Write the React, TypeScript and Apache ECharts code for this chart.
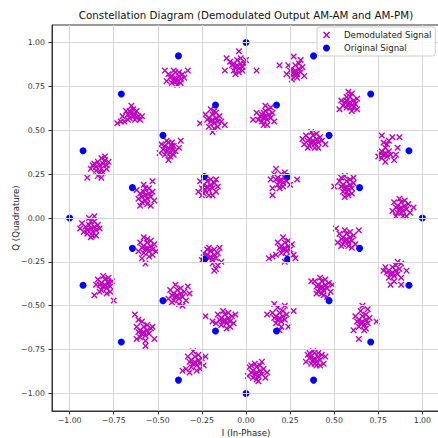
import React, { useEffect, useRef } from 'react';
import * as echarts from 'echarts';

const TITLE = 'Constellation Diagram (Demodulated Output AM-AM and AM-PM)';
const X_LABEL = 'I (In-Phase)';
const Y_LABEL = 'Q (Quadrature)';
const SERIES_DEMOD = 'Demodulated Signal';
const SERIES_ORIG = 'Original Signal';
const TICKS = [-1, -0.75, -0.5, -0.25, 0, 0.25, 0.5, 0.75, 1];

// Original 32-APSK constellation points (4 + 12 + 16)
const originalInner = [[0.236, 0.236], [-0.236, 0.236], [-0.236, -0.236], [0.236, -0.236]];
const originalMiddle = [
  [0.644, 0.173], [0.471, 0.471], [0.173, 0.644], [-0.173, 0.644], [-0.471, 0.471], [-0.644, 0.173],
  [-0.644, -0.173], [-0.471, -0.471], [-0.173, -0.644], [0.173, -0.644], [0.471, -0.471], [0.644, -0.173],
];
const originalOuter = [
  [1, 0], [0.924, 0.383], [0.707, 0.707], [0.383, 0.924], [0, 1], [-0.383, 0.924], [-0.707, 0.707], [-0.924, 0.383],
  [-1, 0], [-0.924, -0.383], [-0.707, -0.707], [-0.383, -0.924], [0, -1], [0.383, -0.924], [0.707, -0.707], [0.924, -0.383],
];

// Demodulated clusters
const cA = [[-0.40,0.80],[-0.38,0.81],[-0.42,0.81],[-0.39,0.78],[-0.41,0.79],[-0.37,0.79],[-0.43,0.80],[-0.40,0.83],[-0.38,0.83],[-0.42,0.77],[-0.36,0.82],[-0.44,0.82],[-0.39,0.76],[-0.41,0.84],[-0.37,0.77],[-0.45,0.78],[-0.35,0.80],[-0.40,0.78],[-0.46,0.84],[-0.33,0.84]];
const cB = [[-0.65,0.60],[-0.63,0.59],[-0.67,0.59],[-0.64,0.62],[-0.66,0.57],[-0.62,0.61],[-0.68,0.61],[-0.65,0.64],[-0.63,0.56],[-0.67,0.56],[-0.61,0.58],[-0.60,0.56],[-0.59,0.58],[-0.70,0.58],[-0.71,0.55],[-0.73,0.54],[-0.64,0.58],[-0.66,0.61],[-0.62,0.57],[-0.69,0.55]];
const cC = [[-0.83,0.30],[-0.81,0.31],[-0.85,0.29],[-0.82,0.28],[-0.84,0.32],[-0.80,0.33],[-0.86,0.31],[-0.79,0.30],[-0.83,0.26],[-0.81,0.26],[-0.85,0.27],[-0.87,0.30],[-0.80,0.35],[-0.78,0.32],[-0.82,0.34],[-0.84,0.24],[-0.90,0.23],[-0.82,0.23],[-0.88,0.28],[-0.79,0.28]];
const cD = [[-0.44,0.40],[-0.42,0.39],[-0.46,0.41],[-0.43,0.37],[-0.45,0.38],[-0.41,0.41],[-0.47,0.39],[-0.44,0.43],[-0.42,0.43],[-0.46,0.36],[-0.40,0.38],[-0.48,0.42],[-0.43,0.35],[-0.45,0.44],[-0.41,0.36],[-0.49,0.37],[-0.38,0.40],[-0.44,0.33],[-0.37,0.44],[-0.42,0.41]];
const cE = [[-0.57,0.13],[-0.55,0.14],[-0.59,0.12],[-0.56,0.11],[-0.58,0.15],[-0.54,0.12],[-0.60,0.14],[-0.57,0.17],[-0.55,0.17],[-0.59,0.09],[-0.53,0.15],[-0.61,0.11],[-0.56,0.08],[-0.58,0.19],[-0.52,0.10],[-0.62,0.16],[-0.54,0.07],[-0.60,0.07],[-0.53,0.21],[-0.57,0.10]];
const cF = [[-0.88,-0.06],[-0.86,-0.05],[-0.90,-0.07],[-0.87,-0.08],[-0.89,-0.04],[-0.85,-0.07],[-0.91,-0.05],[-0.88,-0.02],[-0.86,-0.02],[-0.90,-0.09],[-0.84,-0.04],[-0.92,-0.08],[-0.87,-0.10],[-0.89,0.00],[-0.85,-0.10],[-0.93,-0.03],[-0.83,-0.06],[-0.86,0.01],[-0.94,-0.06],[-0.88,-0.11]];
const cG = [[-0.05,0.87],[-0.03,0.88],[-0.07,0.88],[-0.04,0.85],[-0.06,0.86],[-0.02,0.86],[-0.08,0.87],[-0.05,0.90],[-0.03,0.91],[-0.07,0.84],[-0.01,0.88],[-0.09,0.89],[-0.04,0.83],[-0.04,0.95],[0.06,0.84],[-0.12,0.84],[-0.11,0.91],[0.00,0.90],[-0.06,0.82],[-0.02,0.84]];
const cH = [[0.28,0.84],[0.30,0.85],[0.26,0.85],[0.29,0.82],[0.27,0.83],[0.31,0.83],[0.25,0.84],[0.28,0.87],[0.30,0.88],[0.26,0.81],[0.32,0.86],[0.24,0.87],[0.29,0.80],[0.27,0.92],[0.19,0.87],[0.33,0.81],[0.23,0.82],[0.31,0.90],[0.26,0.79],[0.28,0.82]];
const cI = [[-0.19,0.56],[-0.17,0.57],[-0.21,0.57],[-0.18,0.54],[-0.20,0.55],[-0.16,0.55],[-0.22,0.56],[-0.19,0.59],[-0.17,0.60],[-0.21,0.52],[-0.15,0.58],[-0.23,0.59],[-0.18,0.51],[-0.20,0.62],[-0.16,0.52],[-0.26,0.54],[-0.12,0.53],[-0.19,0.49],[-0.14,0.55],[-0.18,0.61]];
const cJ = [[0.11,0.58],[0.13,0.59],[0.09,0.59],[0.12,0.56],[0.10,0.57],[0.14,0.57],[0.08,0.58],[0.11,0.61],[0.13,0.62],[0.09,0.55],[0.15,0.60],[0.07,0.56],[0.12,0.53],[0.11,0.64],[0.04,0.56],[0.16,0.55],[0.10,0.53],[0.06,0.60],[0.14,0.63],[0.10,0.60]];
const cK = [[-0.22,0.18],[-0.20,0.19],[-0.24,0.19],[-0.21,0.16],[-0.23,0.16],[-0.19,0.17],[-0.25,0.17],[-0.22,0.21],[-0.20,0.22],[-0.24,0.14],[-0.18,0.20],[-0.26,0.21],[-0.21,0.13],[-0.23,0.23],[-0.17,0.15],[-0.27,0.15],[-0.16,0.18],[-0.19,0.13],[-0.25,0.13],[-0.17,0.22]];
const cL = [[0.20,0.22],[0.22,0.23],[0.18,0.23],[0.21,0.20],[0.19,0.21],[0.23,0.21],[0.17,0.22],[0.20,0.25],[0.22,0.26],[0.18,0.19],[0.24,0.24],[0.16,0.25],[0.21,0.18],[0.17,0.28],[0.29,0.22],[0.14,0.22],[0.15,0.13],[0.15,0.17],[0.25,0.19],[0.19,0.17]];
const cM = [[0.59,0.66],[0.61,0.67],[0.57,0.67],[0.60,0.64],[0.58,0.65],[0.62,0.65],[0.56,0.66],[0.59,0.69],[0.60,0.71],[0.57,0.63],[0.63,0.68],[0.55,0.64],[0.60,0.61],[0.58,0.72],[0.53,0.62],[0.63,0.62],[0.57,0.69],[0.61,0.63],[0.54,0.67],[0.59,0.63]];
const cN = [[0.38,0.44],[0.40,0.45],[0.36,0.45],[0.39,0.42],[0.37,0.43],[0.41,0.43],[0.35,0.44],[0.38,0.47],[0.40,0.48],[0.36,0.41],[0.42,0.46],[0.34,0.47],[0.39,0.40],[0.37,0.49],[0.45,0.42],[0.33,0.42],[0.43,0.44],[0.35,0.40],[0.32,0.45],[0.41,0.40]];
const cO = [[0.79,0.37],[0.81,0.38],[0.77,0.38],[0.80,0.35],[0.78,0.36],[0.82,0.36],[0.76,0.37],[0.79,0.40],[0.80,0.42],[0.77,0.34],[0.79,0.32],[0.84,0.33],[0.77,0.47],[0.83,0.46],[0.87,0.46],[0.86,0.40],[0.78,0.43],[0.85,0.36],[0.81,0.44],[0.75,0.35]];
const cP = [[0.57,0.18],[0.59,0.19],[0.55,0.19],[0.58,0.16],[0.56,0.17],[0.60,0.17],[0.54,0.18],[0.57,0.21],[0.59,0.22],[0.55,0.15],[0.61,0.20],[0.53,0.21],[0.58,0.13],[0.56,0.24],[0.50,0.18],[0.60,0.14],[0.56,0.12],[0.54,0.23],[0.61,0.23],[0.57,0.15]];
const cQ = [[0.88,0.06],[0.90,0.07],[0.86,0.07],[0.89,0.04],[0.87,0.05],[0.91,0.05],[0.85,0.06],[0.88,0.09],[0.90,0.10],[0.86,0.03],[0.92,0.08],[0.84,0.09],[0.89,0.01],[0.87,0.11],[0.93,0.03],[0.83,0.04],[0.85,0.01],[0.91,0.01],[0.95,0.06],[0.88,0.03]];
const cR = [[-0.56,-0.17],[-0.54,-0.16],[-0.58,-0.16],[-0.55,-0.19],[-0.57,-0.18],[-0.53,-0.18],[-0.59,-0.17],[-0.56,-0.14],[-0.54,-0.13],[-0.58,-0.20],[-0.52,-0.15],[-0.60,-0.14],[-0.55,-0.22],[-0.58,-0.11],[-0.51,-0.19],[-0.61,-0.19],[-0.57,-0.26],[-0.53,-0.21],[-0.59,-0.23],[-0.56,-0.12]];
const cS = [[-0.80,-0.38],[-0.78,-0.37],[-0.82,-0.37],[-0.79,-0.40],[-0.81,-0.39],[-0.77,-0.39],[-0.83,-0.38],[-0.80,-0.35],[-0.78,-0.34],[-0.82,-0.41],[-0.76,-0.36],[-0.84,-0.35],[-0.79,-0.43],[-0.81,-0.33],[-0.86,-0.44],[-0.75,-0.47],[-0.77,-0.42],[-0.83,-0.42],[-0.85,-0.38],[-0.78,-0.36]];
const cT = [[-0.39,-0.44],[-0.37,-0.43],[-0.41,-0.43],[-0.38,-0.46],[-0.40,-0.45],[-0.36,-0.45],[-0.42,-0.44],[-0.39,-0.41],[-0.37,-0.40],[-0.41,-0.47],[-0.35,-0.42],[-0.43,-0.41],[-0.38,-0.49],[-0.40,-0.38],[-0.34,-0.47],[-0.44,-0.46],[-0.32,-0.43],[-0.36,-0.50],[-0.42,-0.48],[-0.33,-0.39]];
const cU = [[-0.58,-0.65],[-0.56,-0.64],[-0.60,-0.64],[-0.57,-0.67],[-0.59,-0.66],[-0.55,-0.66],[-0.61,-0.65],[-0.58,-0.62],[-0.56,-0.61],[-0.60,-0.68],[-0.54,-0.63],[-0.62,-0.62],[-0.57,-0.70],[-0.59,-0.59],[-0.63,-0.55],[-0.52,-0.69],[-0.57,-0.73],[-0.53,-0.62],[-0.62,-0.69],[-0.61,-0.58]];
const cV = [[-0.20,-0.22],[-0.18,-0.21],[-0.22,-0.21],[-0.19,-0.24],[-0.21,-0.23],[-0.17,-0.23],[-0.23,-0.22],[-0.20,-0.19],[-0.18,-0.18],[-0.22,-0.18],[-0.16,-0.20],[-0.24,-0.20],[-0.15,-0.17],[-0.19,-0.26],[-0.17,-0.29],[-0.16,-0.27],[-0.14,-0.25],[-0.25,-0.24],[-0.21,-0.17],[-0.18,-0.30]];
const cW = [[0.22,-0.17],[0.24,-0.16],[0.20,-0.16],[0.23,-0.19],[0.21,-0.18],[0.25,-0.18],[0.19,-0.17],[0.22,-0.14],[0.24,-0.13],[0.20,-0.20],[0.26,-0.15],[0.18,-0.14],[0.23,-0.22],[0.21,-0.11],[0.27,-0.21],[0.17,-0.21],[0.13,-0.23],[0.15,-0.22],[0.28,-0.23],[0.22,-0.25]];
const cX = [[-0.12,-0.58],[-0.10,-0.57],[-0.14,-0.57],[-0.11,-0.60],[-0.13,-0.59],[-0.09,-0.59],[-0.15,-0.58],[-0.12,-0.55],[-0.10,-0.54],[-0.14,-0.61],[-0.08,-0.56],[-0.16,-0.55],[-0.11,-0.63],[-0.13,-0.53],[-0.07,-0.60],[-0.17,-0.60],[-0.06,-0.55],[-0.23,-0.56],[-0.19,-0.59],[-0.09,-0.62]];
const cY = [[0.19,-0.57],[0.21,-0.56],[0.17,-0.56],[0.20,-0.59],[0.18,-0.58],[0.22,-0.58],[0.16,-0.57],[0.19,-0.54],[0.21,-0.53],[0.17,-0.60],[0.23,-0.55],[0.15,-0.54],[0.20,-0.62],[0.18,-0.51],[0.22,-0.50],[0.12,-0.55],[0.27,-0.53],[0.24,-0.62],[0.16,-0.49],[0.19,-0.64]];
const cZ = [[-0.29,-0.82],[-0.27,-0.81],[-0.31,-0.81],[-0.28,-0.84],[-0.30,-0.83],[-0.26,-0.83],[-0.32,-0.82],[-0.29,-0.79],[-0.27,-0.78],[-0.31,-0.85],[-0.25,-0.80],[-0.33,-0.79],[-0.28,-0.87],[-0.30,-0.76],[-0.23,-0.79],[-0.36,-0.87],[-0.34,-0.86],[-0.26,-0.86],[-0.32,-0.88],[-0.24,-0.84]];
const cAA = [[0.06,-0.88],[0.08,-0.87],[0.04,-0.87],[0.07,-0.90],[0.05,-0.89],[0.09,-0.89],[0.03,-0.88],[0.06,-0.85],[0.08,-0.84],[0.04,-0.91],[0.10,-0.86],[0.02,-0.85],[0.07,-0.93],[0.05,-0.83],[0.11,-0.91],[0.01,-0.90],[0.09,-0.82],[0.03,-0.84],[0.12,-0.88],[0.06,-0.92]];
const cAB = [[0.57,-0.12],[0.59,-0.11],[0.55,-0.11],[0.58,-0.14],[0.56,-0.13],[0.60,-0.13],[0.54,-0.12],[0.57,-0.09],[0.59,-0.08],[0.55,-0.15],[0.61,-0.10],[0.53,-0.09],[0.58,-0.16],[0.56,-0.07],[0.62,-0.15],[0.52,-0.14],[0.51,-0.06],[0.64,-0.07],[0.60,-0.17],[0.54,-0.16]];
const cAC = [[0.83,-0.31],[0.85,-0.30],[0.81,-0.30],[0.84,-0.33],[0.82,-0.32],[0.86,-0.32],[0.80,-0.31],[0.83,-0.28],[0.85,-0.27],[0.81,-0.34],[0.87,-0.29],[0.79,-0.28],[0.84,-0.36],[0.86,-0.25],[0.88,-0.26],[0.91,-0.30],[0.88,-0.34],[0.82,-0.38],[0.88,-0.38],[0.78,-0.30]];
const cAD = [[0.43,-0.39],[0.45,-0.38],[0.41,-0.38],[0.44,-0.41],[0.42,-0.40],[0.46,-0.40],[0.40,-0.39],[0.43,-0.36],[0.45,-0.35],[0.41,-0.42],[0.47,-0.37],[0.39,-0.36],[0.44,-0.44],[0.42,-0.34],[0.48,-0.42],[0.37,-0.36],[0.46,-0.45],[0.40,-0.43],[0.49,-0.38],[0.43,-0.43]];
const cAE = [[0.66,-0.59],[0.68,-0.58],[0.64,-0.58],[0.67,-0.61],[0.65,-0.60],[0.69,-0.60],[0.63,-0.59],[0.66,-0.56],[0.68,-0.55],[0.64,-0.62],[0.70,-0.57],[0.62,-0.56],[0.67,-0.64],[0.65,-0.53],[0.74,-0.59],[0.61,-0.64],[0.64,-0.69],[0.66,-0.50],[0.69,-0.52],[0.68,-0.63]];
const cAF = [[0.39,-0.80],[0.41,-0.79],[0.37,-0.79],[0.40,-0.82],[0.38,-0.81],[0.42,-0.81],[0.36,-0.80],[0.39,-0.77],[0.41,-0.77],[0.37,-0.83],[0.43,-0.78],[0.35,-0.78],[0.40,-0.84],[0.38,-0.76],[0.45,-0.79],[0.34,-0.82],[0.44,-0.83],[0.36,-0.77],[0.42,-0.84],[0.39,-0.83]];

const demodulated = [
  cA, cB, cC, cD, cE, cF, cG, cH, cI, cJ, cK, cL, cM, cN, cO, cP,
  cQ, cR, cS, cT, cU, cV, cW, cX, cY, cZ, cAA, cAB, cAC, cAD, cAE, cAF,
].flat();
const original = [...originalOuter, ...originalMiddle, ...originalInner];

const FONT = '"DejaVu Sans", "Liberation Sans", sans-serif';
const X_SYMBOL = 'path://M0,1.5L1.5,0L5,3.5L8.5,0L10,1.5L6.5,5L10,8.5L8.5,10L5,6.5L1.5,10L0,8.5L3.5,5Z';

const fmt = (v: number) => (v < 0 ? '\u2212' : '') + Math.abs(v).toFixed(2);

export default function App() {
  const ref = useRef<HTMLDivElement>(null);
  useEffect(() => {
    if (!ref.current) return;
    const chart = echarts.init(ref.current, null, { renderer: 'svg' });
    const axisCommon = {
      type: 'value',
      min: -1.1,
      max: 1.1,
      z: 3,
      axisLine: { show: true, onZero: false, lineStyle: { color: '#333', width: 1 } },
      axisTick: { show: true, length: 3.5, customValues: TICKS, lineStyle: { color: '#333', width: 1 } },
      axisLabel: { customValues: TICKS, formatter: fmt, fontSize: 7.8, color: '#333', fontFamily: FONT },
      splitLine: { show: true, lineStyle: { color: '#d6d6d6', width: 1 } },
      nameLocation: 'middle',
      nameMoveOverlap: false,
      nameTextStyle: { fontSize: 8.6, color: '#222', fontFamily: FONT },
    };
    chart.setOption({
      animation: false,
      textStyle: { fontFamily: FONT },
      title: {
        text: TITLE,
        left: 246,
        top: 10,
        padding: 0,
        textAlign: 'center',
        textStyle: { fontSize: 10.3, fontWeight: 'normal', color: '#111', fontFamily: FONT },
      },
      grid: {
        left: 52, top: 25, width: 388, height: 386,
        outerBoundsMode: 'none',
        containLabel: false,
        show: true, borderColor: '#333', borderWidth: 1, backgroundColor: 'transparent',
      },
      xAxis: {
        ...axisCommon,
        name: X_LABEL,
        nameGap: 17,
        axisLabel: { ...axisCommon.axisLabel, margin: 5 },
      },
      yAxis: {
        ...axisCommon,
        name: Y_LABEL,
        nameGap: 32,
        axisLabel: { ...axisCommon.axisLabel, margin: 7 },
      },
      legend: {
        orient: 'vertical',
        left: 317,
        top: 27,
        padding: [3, 4, 3, 6],
        itemGap: 3,
        itemWidth: 7,
        itemHeight: 7,
        backgroundColor: 'rgba(255,255,255,0.8)',
        borderColor: '#cccccc',
        borderWidth: 1,
        borderRadius: 3,
        z: 5,
        textStyle: { fontSize: 8.6, color: '#222', fontFamily: FONT, lineHeight: 10, padding: [0, 0, 0, 9] },
        data: [
          { name: SERIES_DEMOD, icon: X_SYMBOL },
          { name: SERIES_ORIG, icon: 'circle' },
        ],
      },
      series: [
        {
          name: SERIES_DEMOD,
          type: 'scatter',
          symbol: X_SYMBOL,
          symbolSize: 6.5,
          itemStyle: { color: '#bf00bf', opacity: 1 },
          data: demodulated,
          z: 2,
        },
        {
          name: SERIES_ORIG,
          type: 'scatter',
          symbol: 'circle',
          symbolSize: 7,
          itemStyle: { color: '#0000ff', opacity: 1 },
          data: original,
          z: 2,
        },
      ],
    });
    return () => chart.dispose();
  }, []);
  return (
    <div
      ref={ref}
      style={{ position: 'fixed', left: 0, top: 0, width: 438, height: 438, background: '#fff' }}
    />
  );
}
